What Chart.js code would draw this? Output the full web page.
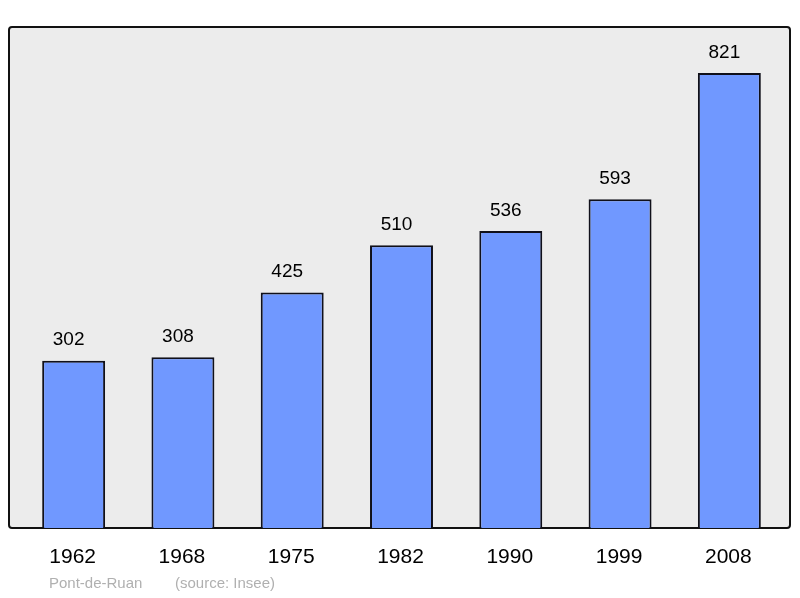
<!DOCTYPE html>
<html>
<head>
<meta charset="utf-8">
<script src="https://cdn.jsdelivr.net/npm/chart.js@4/dist/chart.umd.min.js"></script>
<style>body{margin:0;background:#fff}</style>
</head>
<body>
<canvas id="c" width="800" height="598"></canvas>
<script>
const years = ['1962', '1968', '1975', '1982', '1990', '1999', '2008'];
const population = [302, 308, 425, 510, 536, 593, 821];
const place = 'Pont-de-Ruan';
const source = '(source: Insee)';

const frame = {
  id: 'frame',
  beforeDatasetsDraw(chart) {
    const { ctx, chartArea: a } = chart;
    ctx.save();
    ctx.fillStyle = '#ececec';
    ctx.strokeStyle = '#111';
    ctx.lineWidth = 2;
    ctx.beginPath();
    ctx.roundRect(9, a.top, 781, a.bottom - a.top, 3);
    ctx.fill();
    ctx.stroke();
    ctx.restore();
  },
  afterDraw(chart) {
    const { ctx } = chart;
    const meta = chart.getDatasetMeta(0);
    ctx.save();
    ctx.fillStyle = '#000';
    ctx.textAlign = 'center';
    meta.data.forEach((bar, i) => {
      ctx.font = '19px "Liberation Sans", Arial, sans-serif';
      ctx.textBaseline = 'bottom';
      ctx.fillText(String(population[i]), bar.x - 5, bar.y - 11);
      ctx.font = '21px "Liberation Sans", Arial, sans-serif';
      ctx.textBaseline = 'middle';
      ctx.fillText(years[i], bar.x - 1, 557);
    });
    ctx.textAlign = 'left';
    ctx.fillStyle = '#b0b0b0';
    ctx.font = '15px "Liberation Sans", Arial, sans-serif';
    ctx.fillText(place, 49, 584);
    ctx.fillText(source, 175, 584);
    ctx.restore();
  }
};

new Chart(document.getElementById('c'), {
  type: 'bar',
  data: {
    labels: years,
    datasets: [{
      data: population,
      backgroundColor: '#7098ff',
      borderColor: '#10101a',
      borderWidth: 2,
      categoryPercentage: 1,
      barPercentage: 0.576
    }]
  },
  options: {
    responsive: false,
    animation: false,
    layout: { padding: { left: 19, right: 16, top: 27, bottom: 70 } },
    plugins: { legend: { display: false }, tooltip: { enabled: false } },
    scales: {
      x: { display: false },
      y: { display: false, min: 0, max: 904 }
    }
  },
  plugins: [frame]
});
</script>
</body>
</html>
